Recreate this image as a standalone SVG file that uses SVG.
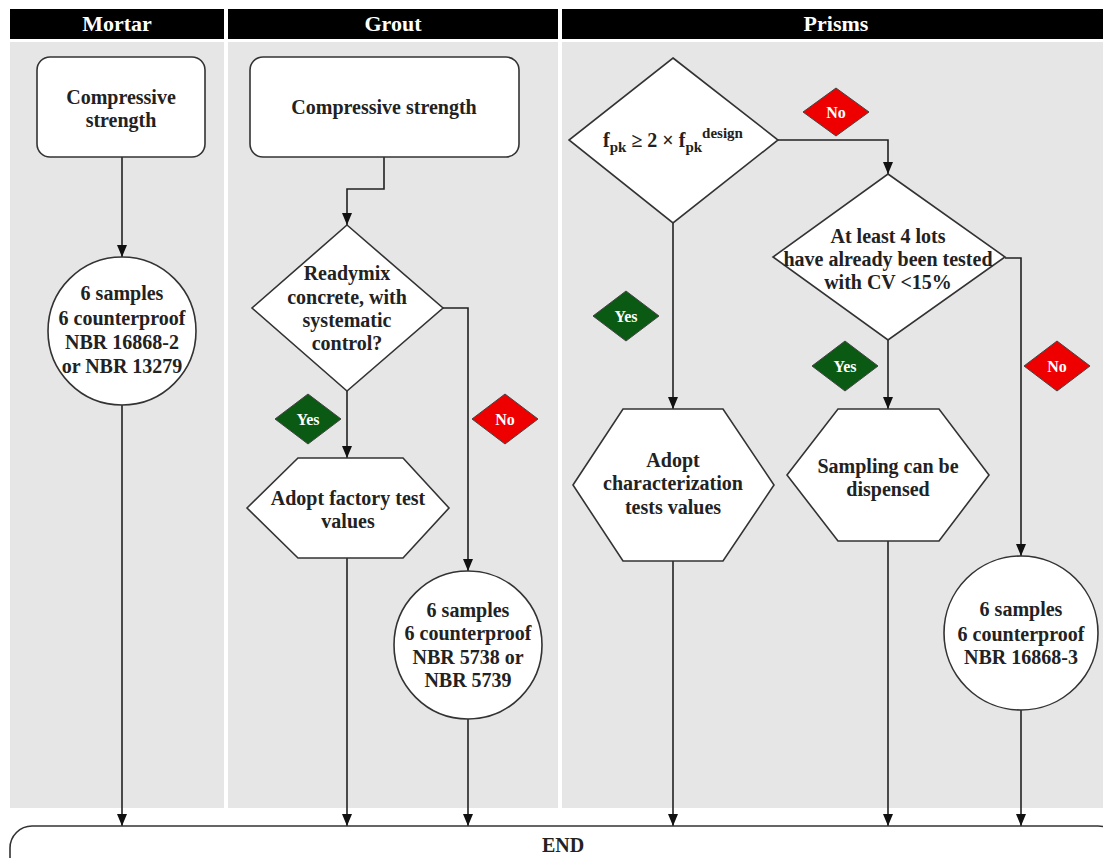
<svg xmlns="http://www.w3.org/2000/svg" width="1103" height="858" viewBox="0 0 1103 858">
<style>
.lane{fill:#e6e6e6}
.hdr{fill:#000}
.ht{font-family:"Liberation Serif",serif;font-weight:bold;font-size:22px;fill:#fff;text-anchor:middle}
.shape{fill:#fff;stroke:#333;stroke-width:1.6}
.t{font-family:"Liberation Serif",serif;font-weight:bold;font-size:20px;fill:#222;text-anchor:middle}
.yes{fill:#0b5a14;stroke:#444;stroke-width:1}
.no{fill:#ee0000;stroke:#444;stroke-width:1}
.lt{font-family:"Liberation Serif",serif;font-weight:bold;font-size:16px;fill:#fff;text-anchor:middle}
.c{fill:none;stroke:#222;stroke-width:1.6}
</style>
<defs>
<marker id="ar" viewBox="0 0 12 10" refX="12" refY="5" markerWidth="12" markerHeight="10" markerUnits="userSpaceOnUse" orient="auto">
<path d="M0,0 L12,5 L0,10 z" fill="#111"/>
</marker>
</defs>
<rect width="1103" height="858" fill="#fff"/>
<g id="lanes">
<rect class="hdr" x="10" y="9" width="214" height="30"/>
<rect class="hdr" x="228" y="9" width="330" height="30"/>
<rect class="hdr" x="562" y="9" width="541" height="30"/>
<text class="ht" x="117" y="31">Mortar</text>
<text class="ht" x="393" y="31">Grout</text>
<text class="ht" x="836" y="31">Prisms</text>
<rect class="lane" x="10" y="42" width="214" height="766"/>
<rect class="lane" x="228" y="42" width="330" height="766"/>
<rect class="lane" x="562" y="42" width="541" height="766"/>
</g>
<g id="connectors">
<line class="c" x1="122" y1="157" x2="122" y2="257" marker-end="url(#ar)"/>
<line class="c" x1="122" y1="405" x2="122" y2="826" marker-end="url(#ar)"/>
<polyline class="c" points="384,157 384,189 347,189 347,225" marker-end="url(#ar)"/>
<line class="c" x1="347" y1="391" x2="347" y2="458" marker-end="url(#ar)"/>
<line class="c" x1="347" y1="558" x2="347" y2="826" marker-end="url(#ar)"/>
<polyline class="c" points="443,308 468,308 468,571" marker-end="url(#ar)"/>
<line class="c" x1="468" y1="719" x2="468" y2="826" marker-end="url(#ar)"/>
<polyline class="c" points="778,140 888,140 888,174" marker-end="url(#ar)"/>
<line class="c" x1="673" y1="223" x2="673" y2="409" marker-end="url(#ar)"/>
<line class="c" x1="673" y1="561" x2="673" y2="826" marker-end="url(#ar)"/>
<line class="c" x1="888" y1="340" x2="888" y2="409" marker-end="url(#ar)"/>
<line class="c" x1="888" y1="541" x2="888" y2="826" marker-end="url(#ar)"/>
<polyline class="c" points="1005,258 1021,258 1021,556" marker-end="url(#ar)"/>
<line class="c" x1="1021" y1="710" x2="1021" y2="826" marker-end="url(#ar)"/>
</g>
<g id="mortar-start">
<rect class="shape" x="37" y="57" width="168" height="100" rx="13"/>
<text class="t" x="121" y="104">Compressive</text>
<text class="t" x="121" y="127">strength</text>
</g>
<g id="mortar-samples">
<circle class="shape" cx="122" cy="331" r="74"/>
<text class="t" x="122" y="300">6 samples</text>
<text class="t" x="122" y="325">6 counterproof</text>
<text class="t" x="122" y="349">NBR 16868-2</text>
<text class="t" x="122" y="373">or NBR 13279</text>
</g>
<g id="grout-start">
<rect class="shape" x="250" y="57" width="269" height="100" rx="13"/>
<text class="t" x="384" y="114">Compressive strength</text>
</g>
<g id="grout-decision">
<polygon class="shape" points="347,225 443,308 347,391 252,308"/>
<text class="t" x="347" y="280">Readymix</text>
<text class="t" x="347" y="304">concrete, with</text>
<text class="t" x="347" y="327">systematic</text>
<text class="t" x="347" y="350">control?</text>
</g>
<g id="grout-yes">
<polygon class="yes" points="308,394 341,419 308,444 275,419"/>
<text class="lt" x="308" y="425">Yes</text>
</g>
<g id="grout-no">
<polygon class="no" points="505,394 538,419 505,444 472,419"/>
<text class="lt" x="505" y="425">No</text>
</g>
<g id="grout-factory">
<polygon class="shape" points="247,508 298,458 403,458 449,508 403,558 298,558"/>
<text class="t" x="348" y="505">Adopt factory test</text>
<text class="t" x="348" y="528">values</text>
</g>
<g id="grout-samples">
<circle class="shape" cx="468" cy="645" r="74"/>
<text class="t" x="468" y="617">6 samples</text>
<text class="t" x="468" y="640">6 counterproof</text>
<text class="t" x="468" y="664">NBR 5738 or</text>
<text class="t" x="468" y="687">NBR 5739</text>
</g>
<g id="prism-decision1">
<polygon class="shape" points="673,58 778,140 673,223 569,140"/>
<text class="t" x="673" y="147">f<tspan font-size="15" dy="5">pk</tspan><tspan dy="-5"> ≥ 2 × f</tspan><tspan font-size="15" dy="5">pk</tspan><tspan font-size="15" dy="-14">design</tspan></text>
</g>
<g id="prism-no1">
<polygon class="no" points="836,88 869,112 836,136 803,112"/>
<text class="lt" x="836" y="118">No</text>
</g>
<g id="prism-yes1">
<polygon class="yes" points="626,291 659,316 626,341 593,316"/>
<text class="lt" x="626" y="322">Yes</text>
</g>
<g id="prism-decision2">
<polygon class="shape" points="888,174 1005,257 888,340 773,257"/>
<text class="t" x="888" y="243">At least 4 lots</text>
<text class="t" x="888" y="266">have already been tested</text>
<text class="t" x="888" y="289">with CV &lt;15%</text>
</g>
<g id="prism-yes2">
<polygon class="yes" points="845,341 878,366 845,391 812,366"/>
<text class="lt" x="845" y="372">Yes</text>
</g>
<g id="prism-no2">
<polygon class="no" points="1057,341 1090,366 1057,391 1024,366"/>
<text class="lt" x="1057" y="372">No</text>
</g>
<g id="prism-characterization">
<polygon class="shape" points="573,485 623,409 723,409 774,485 723,561 623,561"/>
<text class="t" x="673" y="467">Adopt</text>
<text class="t" x="673" y="490">characterization</text>
<text class="t" x="673" y="514">tests values</text>
</g>
<g id="prism-dispensed">
<polygon class="shape" points="787,475 838,409 939,409 989,475 939,541 838,541"/>
<text class="t" x="888" y="473">Sampling can be</text>
<text class="t" x="888" y="496">dispensed</text>
</g>
<g id="prism-samples">
<circle class="shape" cx="1021" cy="633" r="77"/>
<text class="t" x="1021" y="616">6 samples</text>
<text class="t" x="1021" y="641">6 counterproof</text>
<text class="t" x="1021" y="664">NBR 16868-3</text>
</g>
<g id="end">
<rect class="shape" x="10" y="826" width="1110" height="60" rx="22"/>
<text class="t" x="563" y="852">END</text>
</g>
</svg>
